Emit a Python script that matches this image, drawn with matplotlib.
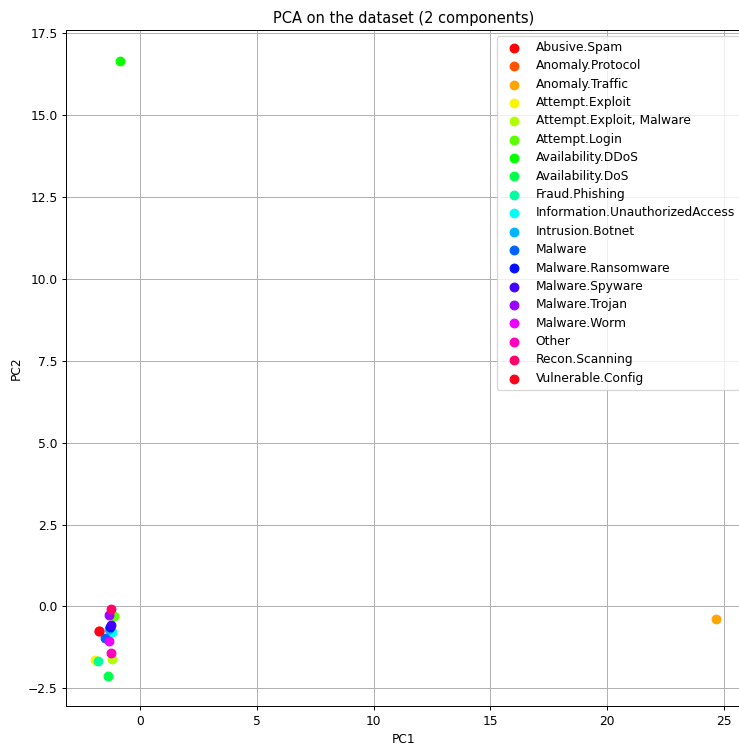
import numpy as np
import matplotlib
matplotlib.use("Agg")
import matplotlib.pyplot as plt

#klasser
labels = ["Abusive.Spam", "Anomaly.Protocol", "Anomaly.Traffic", "Attempt.Exploit",
          "Attempt.Exploit, Malware", "Attempt.Login", "Availability.DDoS", "Availability.DoS",
          "Fraud.Phishing", "Information.UnauthorizedAccess", "Intrusion.Botnet", "Malware",
          "Malware.Ransomware", "Malware.Spyware", "Malware.Trojan", "Malware.Worm",
          "Other", "Recon.Scanning", "Vulnerable.Config"]
#PCA-koordinater (avlästa)
pc1 = [-1.76, -1.3, 24.65, -1.92, -1.18, -1.12, -0.86, -1.38,
       -1.78, -1.21, -1.35, -1.5, -1.3, -1.24, -1.35, -1.32,
       -1.24, -1.24, -1.76]
pc2 = [-0.76, -0.7, -0.38, -1.62, -1.59, -0.3, 16.63, -2.13,
       -1.67, -0.78, -0.7, -0.95, -0.62, -0.58, -0.27, -1.06,
       -1.41, -0.09, -0.76]

colors = plt.cm.hsv(np.linspace(0, 1, len(labels)))

fig = plt.figure(figsize=(740/88, 744/88), dpi=88)
ax = fig.add_axes([0.0892, 0.0505, 0.9135, 0.9092])
for i, lab in enumerate(labels):
    ax.scatter(pc1[i], pc2[i], color=colors[i], s=50, label=lab, zorder=3)
ax.set_xlim(-3.17, 25.77)
ax.set_ylim(-3.05, 17.59)
ax.set_xlabel("PC1")
ax.set_ylabel("PC2")
ax.set_title("PCA on the dataset (2 components)")
ax.grid(True)
ax.legend(loc="upper right", bbox_to_anchor=(1.006, 1.0), labelspacing=0.44)
fig.savefig("out.png", dpi=88)
